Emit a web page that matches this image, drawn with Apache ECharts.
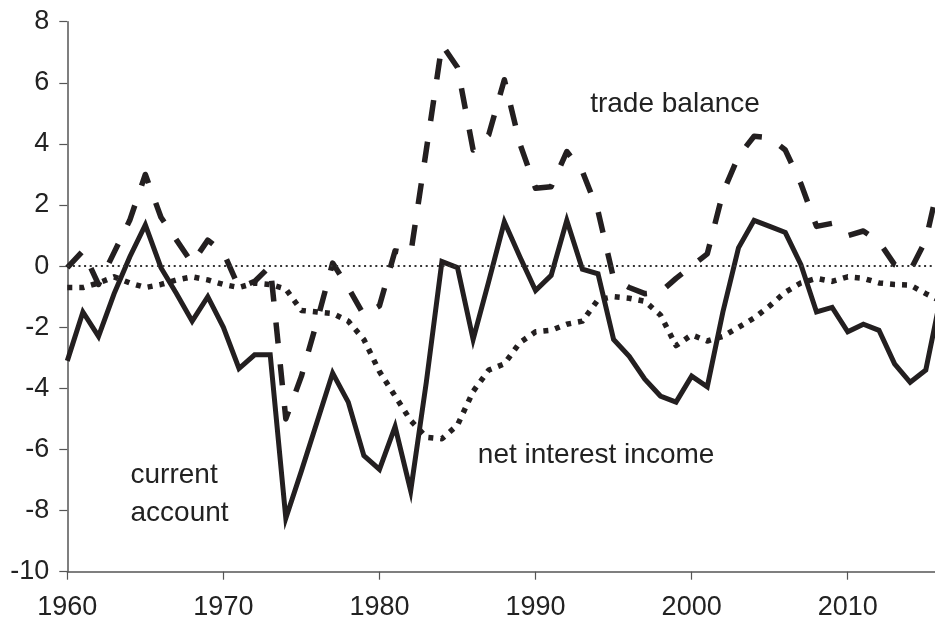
<!DOCTYPE html>
<html>
<head>
<meta charset="utf-8">
<script src="https://cdn.jsdelivr.net/npm/echarts@6/dist/echarts.min.js"></script>
<style>
html,body{margin:0;padding:0;background:#fff;}
#chart{width:935px;height:622px;}
</style>
</head>
<body>
<div id="chart"></div>
<script>
var years = [];
for (var y = 1960; y <= 2016; y++) years.push(y);

var currentAccount = [
 -3.1, -1.5, -2.3, -0.9, 0.3, 1.35, -0.05, -0.9, -1.8, -1.0,
 -2.0, -3.35, -2.9, -2.9, -8.25, -6.7, -5.1, -3.5, -4.45, -6.2,
 -6.65, -5.25, -7.35, -3.8, 0.15, -0.05, -2.4, -0.5, 1.45, 0.3,
 -0.8, -0.3, 1.5, -0.1, -0.25, -2.4, -2.95, -3.7, -4.25, -4.45,
 -3.6, -3.95, -1.5, 0.6, 1.5, 1.3, 1.1, 0.05, -1.5, -1.35,
 -2.15, -1.9, -2.1, -3.2, -3.8, -3.4, -0.9
];
var tradeBalance = [
 -0.05, 0.5, -0.6, 0.45, 1.5, 3.0, 1.6, 0.85, 0.1, 0.85,
 0.45, -0.7, -0.5, 0.0, -5.0, -3.6, -1.8, 0.1, -0.7, -1.6,
 -1.3, 0.5, 0.4, 3.8, 7.25, 6.5, 3.8, 4.3, 6.1, 4.0,
 2.55, 2.6, 3.75, 3.1, 1.8, -0.4, -0.7, -0.9, -0.85, -0.4,
 0.0, 0.4, 2.4, 3.6, 4.25, 4.2, 3.8, 2.7, 1.3, 1.4,
 1.0, 1.15, 0.8, 0.05, -0.15, 0.85, 3.1
];
var netInterestIncome = [
 -0.7, -0.7, -0.55, -0.35, -0.55, -0.7, -0.6, -0.45, -0.35, -0.45,
 -0.6, -0.7, -0.55, -0.6, -0.75, -1.45, -1.5, -1.55, -1.8, -2.4,
 -3.45, -4.25, -5.05, -5.6, -5.65, -5.2, -4.1, -3.4, -3.2, -2.5,
 -2.15, -2.1, -1.9, -1.8, -1.1, -1.0, -1.05, -1.15, -1.6, -2.6,
 -2.25, -2.45, -2.3, -2.0, -1.7, -1.3, -0.85, -0.55, -0.4, -0.5,
 -0.35, -0.4, -0.55, -0.6, -0.62, -0.9, -1.15
];
var yTicks = [-10, -8, -6, -4, -2, 0, 2, 4, 6, 8];
var xTicks = [1960, 1970, 1980, 1990, 2000, 2010];
var labels = [
 {text: 'trade balance', year: 1993.5, value: 5.3},
 {text: 'net interest income', year: 1986.3, value: -6.2},
 {text: 'current', year: 1964.05, value: -6.85},
 {text: 'account', year: 1964.05, value: -8.1}
];

function pairs(arr) { return years.map(function (yr, i) { return [yr, arr[i]]; }); }

var FONT = '"Liberation Sans", Arial, Helvetica, sans-serif';
var INK = '#231f20';

var chart = echarts.init(document.getElementById('chart'), null, {renderer: 'canvas'});
var option = {
  animation: false,
  backgroundColor: '#fff',
  grid: {left: 67.3, top: 21.7, bottom: 50.3, right: 0, containLabel: false},
  xAxis: {
    type: 'value', min: 1960, max: 2015.59, interval: 10,
    axisLine: {show: true, onZero: false, lineStyle: {color: '#555', width: 1.5}},
    axisTick: {show: true, length: 8, inside: false, lineStyle: {color: '#555', width: 1.2}},
    splitLine: {show: false},
    axisLabel: {
      margin: 22, fontFamily: FONT, fontSize: 27, color: '#222',
      showMaxLabel: false,
      formatter: function (v) { return xTicks.indexOf(v) >= 0 ? String(v) : ''; }
    }
  },
  yAxis: {
    type: 'value', min: -10, max: 8, interval: 2,
    axisLine: {show: true, lineStyle: {color: '#555', width: 1.5}},
    axisTick: {show: true, length: 8, inside: false, lineStyle: {color: '#555', width: 1.2}},
    splitLine: {show: false},
    axisLabel: {
      margin: 18, fontFamily: FONT, fontSize: 27, color: '#222',
      formatter: function (v) { return yTicks.indexOf(v) >= 0 ? String(v) : ''; }
    }
  },
  series: [
    {
      name: 'net interest income', type: 'line', data: pairs(netInterestIncome),
      showSymbol: false, symbol: 'none', smooth: false, clip: true,
      lineStyle: {color: INK, width: 5.5, type: [5, 7], cap: 'butt', join: 'round'},
      z: 2,
      markLine: {
        silent: true, symbol: 'none', animation: false,
        label: {show: false},
        lineStyle: {color: '#333', width: 2, type: [2, 3.6]},
        data: [{yAxis: 0}]
      }
    },
    {
      name: 'trade balance', type: 'line', data: pairs(tradeBalance),
      showSymbol: false, symbol: 'none', smooth: false, clip: true,
      lineStyle: {color: INK, width: 5.5, type: [21, 21], cap: 'butt', join: 'round'},
      z: 3
    },
    {
      name: 'current account', type: 'line', data: pairs(currentAccount),
      showSymbol: false, symbol: 'none', smooth: false, clip: true,
      lineStyle: {color: INK, width: 5, type: 'solid', join: 'miter'},
      z: 4
    }
  ]
};
chart.setOption(option);

var gfx = labels.map(function (l) {
  var p = chart.convertToPixel({gridIndex: 0}, [l.year, l.value]);
  return {
    type: 'text', x: p[0], y: p[1],
    style: {text: l.text, fill: '#222', font: '28px ' + FONT, textAlign: 'left', textVerticalAlign: 'middle'}
  };
});
chart.setOption({graphic: gfx});
</script>
</body>
</html>
